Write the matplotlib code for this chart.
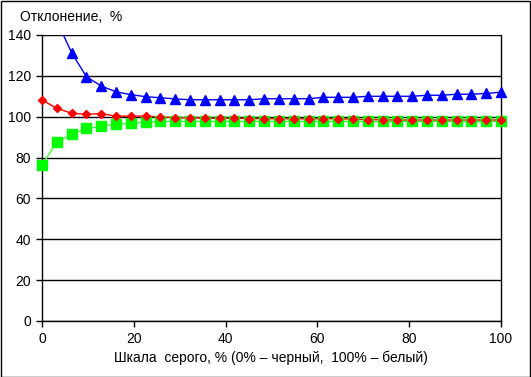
import numpy as np
import matplotlib.pyplot as plt
from matplotlib.patches import Rectangle

# Gray scale levels, %
gray = np.arange(32) * 100 / 31

# Deviation, %
blue_vals = [180, 147, 131.3, 119.6, 115.0, 112.2, 110.8, 109.8, 109.3, 108.7,
             108.3, 108.3, 108.3, 108.3, 108.3, 108.8, 108.8, 108.8, 108.8, 109.5,
             109.5, 109.5, 110.0, 110.0, 110.0, 110.0, 110.5, 110.5, 111.0, 111.0,
             111.4, 112.0]
red_vals = [108.2, 104.1, 101.7, 101.2, 101.5, 100.3, 100.3, 100.3, 99.9, 99.5,
            99.5, 99.3, 99.2, 99.2, 99.1, 99.0, 99.0, 99.0, 99.0, 99.0,
            99.0, 98.8, 98.6, 98.5, 98.4, 98.4, 98.4, 98.4, 98.4, 98.4,
            98.4, 98.4]
green_vals = [76.4, 87.5, 91.4, 94.3, 95.3, 96.3, 96.8, 97.3, 97.7, 97.7,
              97.7, 97.7, 97.7, 97.7, 97.7, 97.7, 97.7, 97.7, 97.7, 97.7,
              97.7, 97.7, 97.7, 97.7, 97.7, 97.7, 97.7, 97.7, 97.7, 97.7,
              97.7, 97.7]

plt.rcParams['font.family'] = ['Liberation Sans', 'DejaVu Sans']
plt.rcParams['font.size'] = 10

fig = plt.figure(figsize=(5.31, 3.77), dpi=100)
ax = fig.add_axes([42 / 531, 1 - 321 / 377, 459 / 531, 286 / 377])

series = [
    (green_vals, '#40ff40', '#00ff00', 's', 6.5),
    (red_vals, '#ff0000', '#ff0000', 'D', 4),
    (blue_vals, '#0000ff', '#0000ff', '^', 6.5),
]
for vals, lc, mc, mk, ms in series:
    vals = np.array(vals)
    # line clipped to the plot area, markers drawn over the edges
    ax.plot(gray, vals, color=lc, lw=1)
    inside = np.ma.masked_greater(vals, 140)
    ax.plot(gray, inside, ls='none', marker=mk, ms=ms, mfc=mc, mec=mc,
            clip_on=False, zorder=3)

ax.set_xlim(0, 100)
ax.set_ylim(0, 140)
ax.set_xticks(np.arange(0, 101, 20))
ax.set_yticks(np.arange(0, 141, 20))
ax.yaxis.grid(True, color='black', lw=1)
ax.set_axisbelow(True)
for s in ['left', 'bottom', 'right']:
    ax.spines[s].set_color('black')
    ax.spines[s].set_linewidth(1)
ax.spines['top'].set_visible(False)
ax.tick_params(direction='out', length=4, width=1, colors='black', pad=4)

fig.text(20 / 531, 1 - 17 / 377, 'Отклонение,  %', ha='left', va='center', fontsize=10)
fig.text(271 / 531, 1 - 358 / 377, 'Шкала  серого, % (0% – черный,  100% – белый)',
         ha='center', va='center', fontsize=10)

fig.patches.append(Rectangle((0.5 / 531, 0.5 / 377), 529.5 / 531, 375.5 / 377,
                             transform=fig.transFigure, fill=False,
                             edgecolor='black', lw=1))

fig.savefig('out.png', dpi=100)
